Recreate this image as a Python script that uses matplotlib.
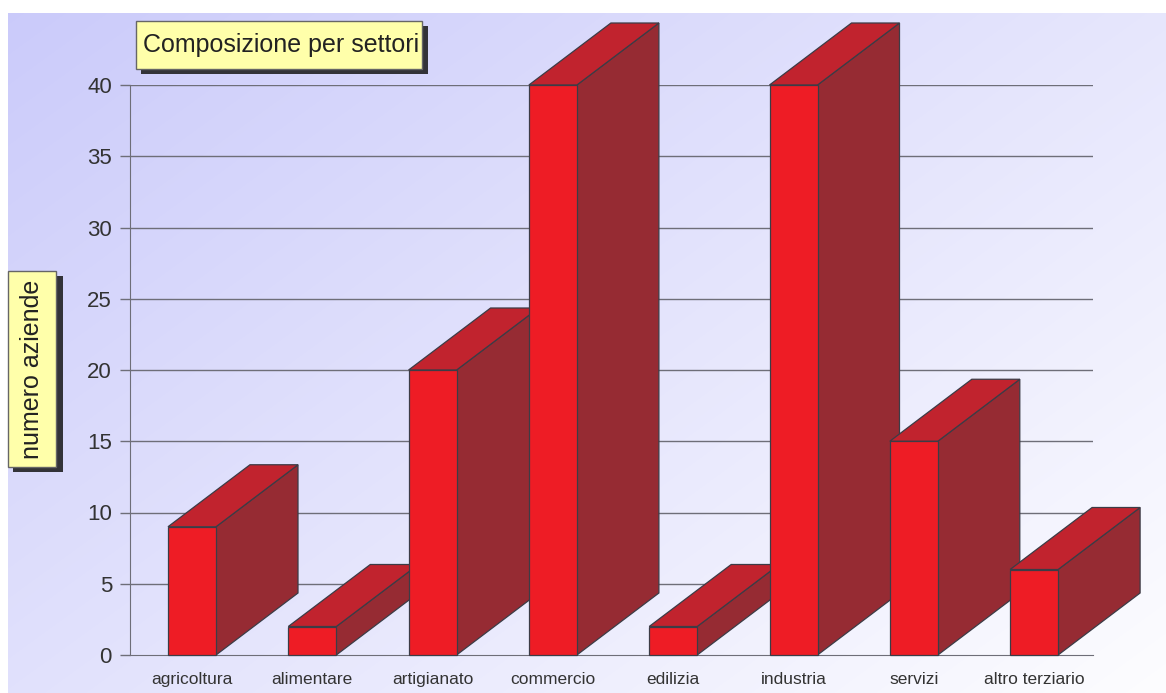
import numpy as np
import matplotlib
matplotlib.use("Agg")
import matplotlib.pyplot as plt
from matplotlib.patches import Polygon, Rectangle

plt.rcParams['font.family'] = ['Liberation Sans', 'DejaVu Sans']

# dati
settori = ["agricoltura", "alimentare", "artigianato", "commercio",
           "edilizia", "industria", "servizi", "altro terziario"]
aziende = [9, 2, 20, 40, 2, 40, 15, 6]
y_ticks = [0, 5, 10, 15, 20, 25, 30, 35, 40]

W, H = 1166, 693
SLOT = 120.3  # px per categoria
FRONT = "#ee1c25"
SIDE = "#962b33"
TOP = "#c1232e"
EDGE = "#3c3c46"
GRID = "#6e6e78"

fig = plt.figure(figsize=(W / 100, H / 100), dpi=100)

# sfondo sfumato
bg = fig.add_axes([0, 0, 1, 1])
bg.set_zorder(0)
yy, xx = np.mgrid[0:H, 0:W]
t = 0.55 * xx / W + 0.45 * yy / H
c0 = np.array([202, 202, 250]) / 255
c1 = np.array([253, 253, 255]) / 255
img = c0[None, None, :] + t[..., None] * (c1 - c0)[None, None, :]
img[:13, :, :] = 1.0
img[:, :8, :] = 1.0
bg.imshow(img, extent=(0, W, H, 0), aspect="auto")
bg.set_xlim(0, W)
bg.set_ylim(H, 0)
bg.axis("off")

# assi principali (pixel: x 130..1093, y 655..85)
ax = fig.add_axes([130 / W, (H - 655) / H, 963 / W, 570 / H])
ax.set_zorder(1)
ax.patch.set_visible(False)
ax.set_xlim(0, 963 / SLOT)
ax.set_ylim(0, 40)

for v in y_ticks[1:]:
    ax.axhline(v, color=GRID, lw=1, zorder=1)

dx, dy = 82 / SLOT, 62 / 14.25
w = 48 / SLOT
for i, v in enumerate(aziende):
    x0 = i + 38 / SLOT
    z = 2 + i * 0.1
    ax.add_patch(Polygon([(x0 + w, 0), (x0 + w + dx, dy), (x0 + w + dx, v + dy), (x0 + w, v)],
                         closed=True, fc=SIDE, ec=EDGE, lw=0.9, zorder=z, clip_on=False))
    ax.add_patch(Polygon([(x0, v), (x0 + dx, v + dy), (x0 + w + dx, v + dy), (x0 + w, v)],
                         closed=True, fc=TOP, ec=EDGE, lw=0.9, zorder=z, clip_on=False))
    ax.add_patch(Rectangle((x0, 0), w, v, fc=FRONT, ec=EDGE, lw=0.9, zorder=z + 0.01, clip_on=False))

ax.set_yticks(y_ticks)
ax.set_yticklabels([str(v) for v in y_ticks], fontsize=16, color="#333333")
ax.set_xticks([i + 62 / SLOT for i in range(len(settori))])
ax.set_xticklabels(settori, fontsize=12.5, color="#333333")
ax.tick_params(axis="y", length=7, width=1, color=GRID, pad=6)
ax.tick_params(axis="x", length=0, pad=12)
for s in ["top", "right"]:
    ax.spines[s].set_visible(False)
ax.spines["left"].set_color(GRID)
ax.spines["bottom"].set_color(GRID)
ax.spines["left"].set_zorder(1.5)
ax.spines["bottom"].set_zorder(1.5)

# riquadri titolo ed etichetta asse
ov = fig.add_axes([0, 0, 1, 1])
ov.set_zorder(2)
ov.patch.set_visible(False)
ov.set_xlim(0, W)
ov.set_ylim(H, 0)
ov.axis("off")

ov.add_patch(Rectangle((141, 26), 287, 48, fc="#333338", ec="none"))
ov.add_patch(Rectangle((136, 21), 286, 48, fc="#ffffaa", ec="#666666", lw=1))
ov.text(143, 45, "Composizione per settori", fontsize=18, color="#222222",
        ha="left", va="center")

ov.add_patch(Rectangle((13, 276), 50, 196, fc="#333338", ec="none"))
ov.add_patch(Rectangle((8, 271), 48, 196, fc="#ffffaa", ec="#666666", lw=1))
ov.text(32, 369, "numero aziende", fontsize=18, color="#222222", rotation=90,
        ha="center", va="center")

fig.savefig("out.png", dpi=100)
